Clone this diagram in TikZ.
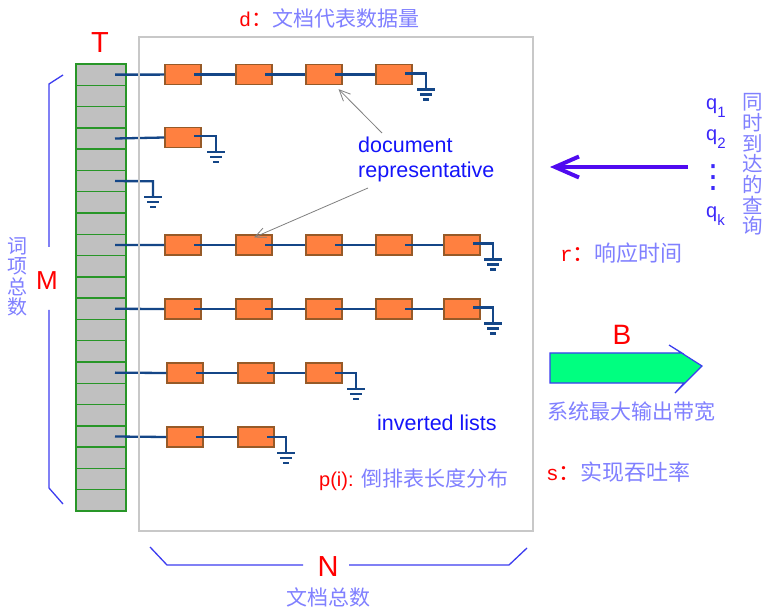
\documentclass[tikz,border=0pt]{standalone}
\usepackage{fontspec}
\setmainfont{Liberation Sans}
\newfontfamily\cjk{Noto Sans CJK SC}
\newfontfamily\monof{Liberation Mono}
\newfontfamily\dejavu{DejaVu Sans}
\usetikzlibrary{arrows.meta}
\definecolor{linkc}{RGB}{20,70,135}
\definecolor{lblue}{RGB}{128,128,255}
\definecolor{tblue}{RGB}{20,20,250}
\definecolor{qblue}{RGB}{60,40,250}
\definecolor{boxor}{RGB}{255,128,64}
\definecolor{boxbr}{RGB}{150,90,40}
\definecolor{cellg}{RGB}{192,192,192}
\definecolor{cellb}{RGB}{40,150,40}
\definecolor{frameg}{RGB}{200,200,200}
\definecolor{redt}{RGB}{255,0,0}
\definecolor{arrowb}{RGB}{80,10,240}
\definecolor{greenf}{RGB}{0,255,128}
\definecolor{braceb}{RGB}{60,60,240}
\newcommand\groundrun[2]{%
  \draw[link] (#1) -- (#2) -- ++(0,16);
  \draw[link] ([shift={(-9,16)}]#2) -- ++(18,0);
  \draw[link] ([shift={(-6,21)}]#2) -- ++(12,0);
  \draw[link] ([shift={(-3,26)}]#2) -- ++(6,0);}
\begin{document}
\begin{tikzpicture}[x=1pt,y=-1pt,
  cell/.style={draw=cellb,fill=cellg,line width=1.3pt,minimum width=50pt,minimum height=21.286pt,inner sep=0pt,outer sep=0pt},
  docbox/.style={draw=boxbr,fill=boxor,line width=1.1pt,minimum width=36pt,minimum height=20pt,inner sep=0pt},
  link/.style={draw=linkc,line width=2.3pt},
  cjklabel/.style={inner sep=0pt,text=lblue,font=\cjk\fontsize{21}{21}\selectfont},
  biglet/.style={inner sep=0pt,text=redt,font=\fontsize{29}{29}\selectfont},
  brace/.style={draw=braceb,line width=1.3pt},
  qlab/.style={anchor=base west,inner sep=0pt,text=qblue,font=\fontsize{20}{20}\selectfont},
  pointer/.style={draw=gray,line width=0.8pt,-{Straight Barb[length=11pt,width=10pt]}}
]
\useasboundingbox[fill=white] (0,0) rectangle (768,609);

% term table
\foreach \i in {1,...,21}
  \node[cell] (r\i) at (101,{64+21.286*(\i-0.5)}) {};

% document boxes
\foreach \k/\x in {1/183,2/254,3/324,4/394}
  \node[docbox] (b1\k) at (\x,74.6) {};
\node[docbox] (b21) at (183,137.5) {};
\foreach \k/\x in {1/183,2/254,3/324,4/394,5/462}{
  \node[docbox] (b4\k) at (\x,245) {};
  \node[docbox] (b5\k) at (\x,309) {};}
\foreach \k/\x in {1/185,2/256,3/324}
  \node[docbox] (b6\k) at (\x,373) {};
\foreach \k/\x in {1/185,2/256}
  \node[docbox] (b7\k) at (\x,437) {};

% links
\draw[link] ([xshift=14pt]r1.center) -- (b11.west);
\foreach \a/\b in {11/12,12/13,13/14,41/42,42/43,43/44,44/45,51/52,52/53,53/54,54/55,61/62,62/63,71/72}
  \draw[link] ([xshift=11pt]b\a.center) -- (b\b.west);
\coordinate (g1) at ([xshift=32pt,yshift=1pt]b14.center);
\groundrun{[xshift=11pt,yshift=1pt]b14.center}{g1}
\draw[link] ([xshift=14pt]r4.center) -- (b21.west);
\coordinate (g2) at ([xshift=33pt,yshift=1.5pt]b21.center);
\groundrun{[xshift=11pt,yshift=1.5pt]b21.center}{g2}
\coordinate (g3) at (153,181.2);
\groundrun{[xshift=14pt]r6.center}{g3}
\draw[link] ([xshift=14pt]r9.center) -- (b41.west);
\coordinate (g4) at ([xshift=31pt,yshift=1.5pt]b45.center);
\groundrun{[xshift=11pt,yshift=1.5pt]b45.center}{g4}
\draw[link] ([xshift=14pt]r12.center) -- (b51.west);
\coordinate (g5) at ([xshift=31pt,yshift=1.5pt]b55.center);
\groundrun{[xshift=11pt,yshift=1.5pt]b55.center}{g5}
\draw[link] ([xshift=14pt]r15.center) -- (b61.west);
\coordinate (g6) at ([xshift=32pt]b63.center);
\groundrun{[xshift=11pt]b63.center}{g6}
\draw[link] ([xshift=14pt]r18.center) -- (b71.west);
\coordinate (g7) at ([xshift=30pt]b72.center);
\groundrun{[xshift=11pt]b72.center}{g7}

% frame
\node[draw=frameg,line width=1.5pt,minimum width=394pt,minimum height=494pt,inner sep=0pt] (frame) at (336,284) {};

% document representative
\node[anchor=west,align=left,inner sep=0pt,text=tblue,font=\fontsize{21.5}{25}\selectfont] (doctext) at (358,159) {document\\representative};
\coordinate (pa) at (382,133);
\coordinate (pb) at (368,188);
\draw[pointer] (pa) -- ([shift={(-4,4)}]b13.south east);
\draw[pointer] (pb) -- ([yshift=-3pt]b42.north);

% labels on the table / frame
\node[biglet] (T) at (100,43) {T};
\node[biglet,font=\fontsize{26}{26}\selectfont] (M) at (47,281) {M};
\node[cjklabel,align=center,font=\cjk\fontsize{20}{20.5}\selectfont] (terms) at (17,277) {词\\项\\总\\数};
\draw[brace] (63,75) -- (49,84) -- (49,247);
\draw[brace] (49,310) -- (49,488) -- (63,504);

\node[anchor=west,inner sep=0pt] (dlabel) at (239,18) {\textcolor{redt}{\monof\fontsize{20}{20}\selectfont d}\textcolor{redt}{\cjk\fontsize{21}{21}\selectfont ：}\textcolor{lblue}{\cjk\fontsize{21}{21}\selectfont 文档代表数据量}};

\node[biglet] (N) at (328,567) {N};
\node[cjklabel] (docs) at (328,597) {文档总数};
\draw[brace] (150,547) -- (167,565) -- (303,565);
\draw[brace] (349,565) -- (509,565) -- (527,548);

\node[anchor=west,inner sep=0pt,text=tblue,font=\fontsize{21.5}{21.5}\selectfont] (inv) at (377,423) {inverted lists};
\node[anchor=west,inner sep=0pt,font=\fontsize{20}{20}\selectfont] (pi) at (319,480) {\textcolor{redt}{p(i):} \textcolor{lblue}{\cjk\fontsize{21}{21}\selectfont 倒排表长度分布}};

% queries
\node[qlab] (q1) at (706,109.5) {q\raisebox{-8pt}{\fontsize{15}{15}\selectfont 1}};
\node[qlab] (q2) at (706,141) {q\raisebox{-8pt}{\fontsize{15}{15}\selectfont 2}};
\node[inner sep=0pt,text=qblue,font=\dejavu\fontsize{32}{32}\selectfont] (qd) at (713,178) {⋮};
\node[qlab] (qk) at (706,218) {q\raisebox{-8pt}{\fontsize{15}{15}\selectfont k}};
\node[cjklabel,align=center,font=\cjk\fontsize{20.5}{20.7}\selectfont] (qtext) at (753,164.5) {同\\时\\到\\达\\的\\查\\询};
\coordinate (qa) at (688,167);
\coordinate (qb) at (550,167);
\draw[draw=arrowb,line width=4pt,-{Straight Barb[length=24pt,width=21pt]}] (qa) -- (qb);

\node[anchor=west,inner sep=0pt] (rlabel) at (560,253) {\textcolor{redt}{\monof\fontsize{21}{21}\selectfont r}\textcolor{redt}{\cjk\fontsize{22}{22}\selectfont ：}\textcolor{lblue}{\cjk\fontsize{22}{22}\selectfont 响应时间}};

% bandwidth arrow
\node[biglet,font=\fontsize{28}{28}\selectfont] (B) at (622,335) {B};
\draw[draw=braceb,fill=greenf,line width=1.2pt,line join=miter] (550,353) -- (682,353) -- (669,345) -- (702,366) -- (675,393) -- (684,383) -- (550,383) -- cycle;
\node[cjklabel,anchor=west] (bw) at (547,412) {系统最大输出带宽};
\node[anchor=west,inner sep=0pt] (slabel) at (546,472) {\textcolor{redt}{\monof\fontsize{21}{21}\selectfont s}\textcolor{redt}{\cjk\fontsize{22}{22}\selectfont ：}\textcolor{lblue}{\cjk\fontsize{22}{22}\selectfont 实现吞吐率}};
\end{tikzpicture}
\end{document}
